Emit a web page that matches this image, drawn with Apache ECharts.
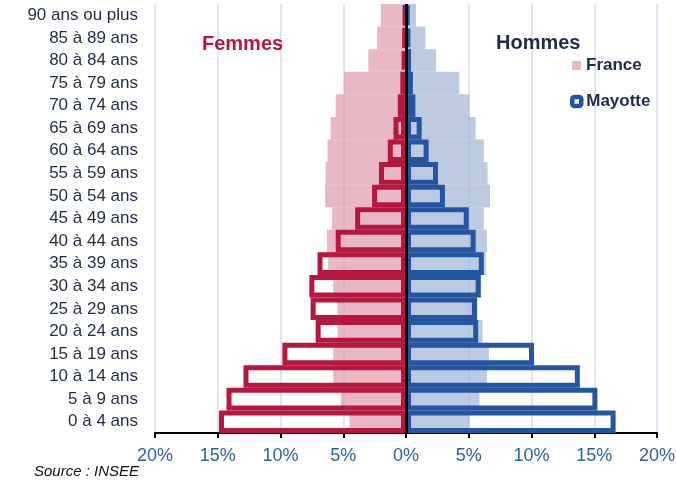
<!DOCTYPE html>
<html>
<head>
<meta charset="utf-8">
<title>Pyramide des âges</title>
<script src="https://cdn.jsdelivr.net/npm/echarts@6/dist/echarts.min.js"></script>
<style>
  html, body { margin: 0; padding: 0; background: #fff; }
  #chart { width: 676px; height: 481px; }
</style>
</head>
<body>
<div id="chart"></div>
<script>
// tranches d'âge, du bas vers le haut
const ages = ['0 à 4 ans', '5 à 9 ans', '10 à 14 ans', '15 à 19 ans', '20 à 24 ans', '25 à 29 ans',
  '30 à 34 ans', '35 à 39 ans', '40 à 44 ans', '45 à 49 ans', '50 à 54 ans', '55 à 59 ans',
  '60 à 64 ans', '65 à 69 ans', '70 à 74 ans', '75 à 79 ans', '80 à 84 ans', '85 à 89 ans', '90 ans ou plus'];

// France (en % de chaque sexe)
const franceFemmes = [4.5, 5.2, 5.8, 5.8, 5.45, 5.45, 5.8, 6.2, 6.3, 5.9, 6.45, 6.4, 6.25, 6.0, 5.6, 4.95, 3.0, 2.3, 2.0];
const franceHommes = [5.05, 5.85, 6.45, 6.6, 6.1, 5.7, 6.0, 6.35, 6.45, 6.2, 6.7, 6.5, 6.2, 5.55, 5.05, 4.25, 2.4, 1.55, 0.8];

// Mayotte
const mayotteFemmes = [14.9, 14.3, 12.95, 9.85, 7.2, 7.6, 7.7, 7.05, 5.6, 4.05, 2.7, 2.15, 1.45, 1.0, 0.65, 0.45, 0.3, 0.2, 0.15];
const mayotteHommes = [16.7, 15.25, 13.85, 10.2, 5.75, 5.65, 5.95, 6.2, 5.55, 5.0, 3.1, 2.55, 1.8, 1.25, 0.75, 0.55, 0.4, 0.3, 0.2];

const xTicks = { min: -20, max: 20, step: 5 };

const navy = '#1f2a4d';
const rouge = '#b5173e';
const bleu = '#2355a0';

const chart = echarts.init(document.getElementById('chart'));

const option = {
  animation: false,
  title: [
    { text: 'Femmes', left: 202, top: 34, padding: 0,
      textStyle: { color: rouge, fontSize: 20, fontWeight: 'bold', fontFamily: 'Liberation Sans' } },
    { text: 'Hommes', left: 496, top: 33, padding: 0,
      textStyle: { color: navy, fontSize: 20, fontWeight: 'bold', fontFamily: 'Liberation Sans' } },
    { text: 'Source : INSEE', left: 34, top: 464, padding: 0,
      textStyle: { color: '#111', fontSize: 15, fontWeight: 'normal', fontStyle: 'italic', fontFamily: 'Liberation Sans Narrow, Liberation Sans' } }
  ],
  legend: [
    {
      data: [{ name: 'France', itemStyle: { color: '#e8b8c4', borderWidth: 0 } }],
      left: 572, top: 57, padding: 0,
      itemWidth: 9, itemHeight: 9, icon: 'rect',
      selectedMode: false,
      textStyle: { color: navy, fontSize: 17, fontWeight: 'bold', fontFamily: 'Liberation Sans' }
    },
    {
      data: [{ name: 'Mayotte', itemStyle: { color: '#fff', borderColor: bleu, borderWidth: 4.5 } }],
      left: 570, top: 93, padding: 0,
      itemWidth: 9, itemHeight: 9, icon: 'roundRect',
      selectedMode: false,
      textStyle: { color: navy, fontSize: 17, fontWeight: 'bold', fontFamily: 'Liberation Sans' }
    }
  ],
  grid: { left: 155, right: 19, top: 4, bottom: 48, containLabel: false, outerBoundsMode: 'none' },
  xAxis: {
    type: 'value',
    min: xTicks.min,
    max: xTicks.max,
    interval: xTicks.step,
    axisLine: { show: true, onZero: false, lineStyle: { color: '#000', width: 2 } },
    axisTick: { show: true, length: 5, lineStyle: { color: '#000', width: 2 } },
    axisLabel: {
      margin: 14,
      color: '#2e5eaa',
      fontSize: 18,
      fontFamily: 'Liberation Sans',
      formatter: v => Math.abs(v) + '%'
    },
    splitLine: { show: true, lineStyle: { color: '#d3ddf0', width: 1.5 } }
  },
  yAxis: {
    type: 'category',
    data: ages,
    axisLine: { show: false },
    axisTick: { show: false },
    axisLabel: { margin: 17, color: navy, fontSize: 17, fontFamily: 'Liberation Sans' }
  },
  series: [
    {
      name: 'France', type: 'bar', barGap: '-100%', barCategoryGap: '0%',
      data: franceFemmes.map(v => -v),
      itemStyle: { color: 'rgba(222,155,171,0.7)' }
    },
    {
      name: 'France', type: 'bar', barGap: '-100%', barCategoryGap: '0%',
      data: franceHommes,
      itemStyle: { color: 'rgba(159,181,214,0.7)' }
    },
    {
      name: 'Mayotte', type: 'bar', barGap: '-100%', barCategoryGap: '0%',
      data: mayotteFemmes.map(v => -v),
      itemStyle: { color: 'rgba(0,0,0,0)', borderColor: rouge, borderWidth: 5 }
    },
    {
      name: 'Mayotte', type: 'bar', barGap: '-100%', barCategoryGap: '0%',
      data: mayotteHommes,
      itemStyle: { color: 'rgba(0,0,0,0)', borderColor: bleu, borderWidth: 5 },
      // trait vertical du 0
      markLine: {
        silent: true,
        symbol: ['none', 'none'],
        label: { show: false },
        lineStyle: { color: '#000', width: 3, type: 'solid' },
        data: [{ xAxis: 0 }]
      }
    }
  ]
};

chart.setOption(option);
</script>
</body>
</html>
